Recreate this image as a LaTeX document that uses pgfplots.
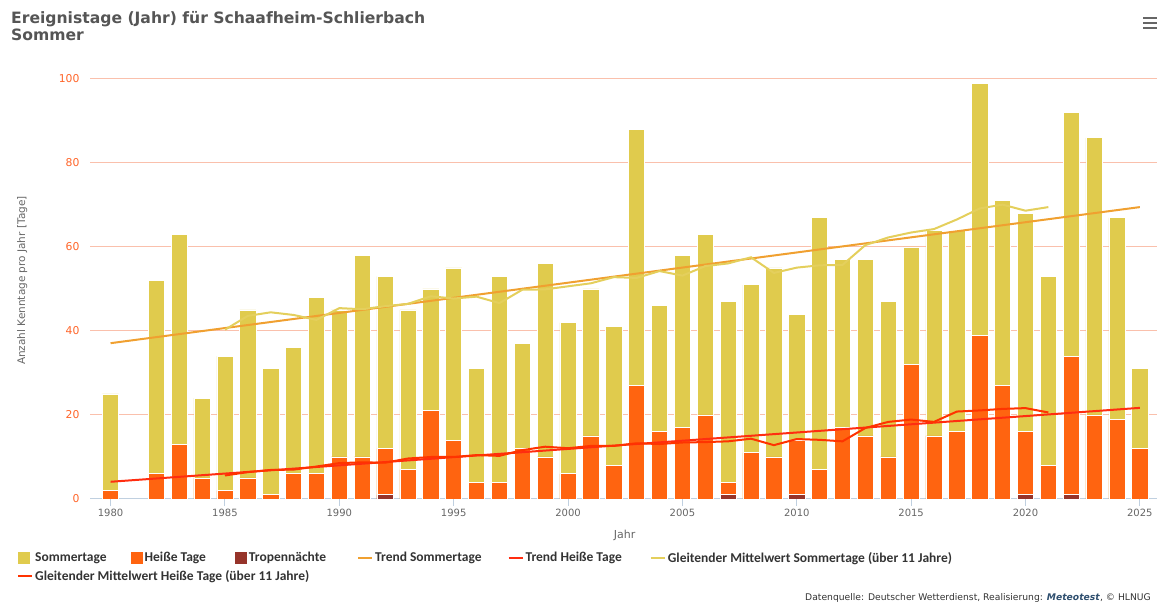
\documentclass[border=0pt]{standalone}
\usepackage{fontspec}
\setmainfont{DejaVu Sans}
\newfontfamily\legfont{Carlito}
\usepackage{pgfplots}
\pgfplotsset{compat=1.18}
\definecolor{cSom}{RGB}{224,203,77}
\definecolor{cHei}{RGB}{255,100,16}
\definecolor{cTro}{RGB}{150,52,42}
\definecolor{cTS}{RGB}{240,160,48}
\definecolor{cTH}{RGB}{255,45,16}
\definecolor{cMS}{RGB}{228,207,92}
\definecolor{cMH}{RGB}{255,51,0}
\definecolor{cGrid}{RGB}{250,192,172}
\definecolor{cAxis}{RGB}{192,208,224}
\definecolor{cYT}{RGB}{255,100,40}
\definecolor{cGrey}{RGB}{102,102,102}
\definecolor{cTitle}{RGB}{85,85,85}
\definecolor{cLeg}{RGB}{51,51,51}
\definecolor{cMeteo}{RGB}{47,79,111}
\pgfplotsset{
  barleg/.style={legend image code/.code={\fill[##1,draw=none] (0bp,-6bp) rectangle (12bp,6bp);}},
  lineleg/.style={legend image code/.code={\draw[##1] (0bp,0bp) -- (14bp,0bp);}},
  mybar/.style={ybar, bar width=0.71, bar shift=0pt, draw=white, line width=0.6bp, barleg},
}
\begin{document}
\begin{tikzpicture}
\path[use as bounding box] (0,0) rectangle (1159bp,602bp);
\begin{axis}[
  at={(90bp,103bp)}, anchor=south west,
  scale only axis, width=1067bp, height=420bp,
  xmin=1979.1, xmax=2025.75, ymin=0, ymax=100,
  axis x line*=bottom, axis y line*=left,
  x axis line style={draw=cAxis, line width=1bp, -},
  y axis line style={draw=none, -},
  xtick={1980,1985,...,2025}, ytick={0,20,...,100},
  tick align=outside, major tick length=7bp,
  xtick style={draw=cAxis, line width=1bp},
  ytick style={draw=none},
  ymajorgrids, major grid style={draw=cGrid, line width=1bp},
  /pgf/number format/1000 sep={}, /pgf/number format/assume math mode=true,
  xticklabel style={font=\fontsize{10bp}{12bp}\selectfont, text=cGrey},
  yticklabel style={font=\fontsize{10.8bp}{12bp}\selectfont, text=cYT},
  xlabel={Jahr}, ylabel={Anzahl Kenntage pro Jahr [Tage]},
  xlabel style={at={(axis description cs:0.501,-0.0857)}, anchor=center, font=\fontsize{11bp}{13bp}\selectfont, text=cGrey},
  ylabel style={at={(axis description cs:-0.0635,0.52)}, anchor=center, font=\fontsize{10.5bp}{13bp}\selectfont, text=cGrey},
  legend columns=6,
  legend cell align=left,
  legend style={at={(axis description cs:-0.0684,-0.1215)}, anchor=north west, draw=none, fill=none,
    font=\legfont\bfseries\fontsize{13.5bp}{15bp}\selectfont, text=cLeg, inner sep=0pt, row sep=3bp,
    /tikz/every even column/.append style={column sep=22bp}},
]
\addplot[mybar, fill=cSom] coordinates {(1980,25) (1982,52) (1983,63) (1984,24) (1985,34) (1986,45) (1987,31) (1988,36) (1989,48) (1990,45) (1991,58) (1992,53) (1993,45) (1994,50) (1995,55) (1996,31) (1997,53) (1998,37) (1999,56) (2000,42) (2001,50) (2002,41) (2003,88) (2004,46) (2005,58) (2006,63) (2007,47) (2008,51) (2009,55) (2010,44) (2011,67) (2012,57) (2013,57) (2014,47) (2015,60) (2016,64) (2017,64) (2018,99) (2019,71) (2020,68) (2021,53) (2022,92) (2023,86) (2024,67) (2025,31)};
\addlegendentry{Sommertage}
\addplot[mybar, fill=cHei] coordinates {(1980,2) (1982,6) (1983,13) (1984,5) (1985,2) (1986,5) (1987,1) (1988,6) (1989,6) (1990,10) (1991,10) (1992,12) (1993,7) (1994,21) (1995,14) (1996,4) (1997,4) (1998,12) (1999,10) (2000,6) (2001,15) (2002,8) (2003,27) (2004,16) (2005,17) (2006,20) (2007,4) (2008,11) (2009,10) (2010,14) (2011,7) (2012,17) (2013,15) (2014,10) (2015,32) (2016,15) (2017,16) (2018,39) (2019,27) (2020,16) (2021,8) (2022,34) (2023,20) (2024,19) (2025,12)};
\addlegendentry{Heiße Tage\rule{5bp}{0pt}}
\addplot[mybar, fill=cTro] coordinates {(1992,1) (2007,1) (2010,1) (2020,1) (2022,1)};
\addlegendentry{Tropennächte\rule{7bp}{0pt}}
\addplot[cTS, line width=2bp, lineleg] coordinates {(1980,37.1) (2025,69.5)};
\addlegendentry{Trend Sommertage\rule{2bp}{0pt}}
\addplot[cTH, line width=2bp, lineleg] coordinates {(1980,4.1) (2025,21.7)};
\addlegendentry{Trend Heiße Tage\rule{4bp}{0pt}}
\addplot[cMS, line width=2bp, lineleg] coordinates {(1985,40.3) (1986,43.6) (1987,44.45) (1988,43.82) (1989,42.64) (1990,45.45) (1991,45.18) (1992,45.91) (1993,46.45) (1994,48.27) (1995,47.73) (1996,48.18) (1997,46.64) (1998,49.82) (1999,49.91) (2000,50.64) (2001,51.36) (2002,52.82) (2003,52.64) (2004,54.27) (2005,53.18) (2006,55.45) (2007,56.09) (2008,57.55) (2009,53.82) (2010,55.09) (2011,55.64) (2012,55.73) (2013,60.45) (2014,62.27) (2015,63.45) (2016,64.27) (2017,66.55) (2018,69.18) (2019,70.09) (2020,68.64) (2021,69.5)};
\addlegendentry{Gleitender Mittelwert Sommertage (über 11 Jahre)}
\addplot[cMH, line width=2bp, lineleg] coordinates {(1985,5.6) (1986,6.4) (1987,6.91) (1988,7.0) (1989,7.73) (1990,8.55) (1991,8.73) (1992,8.64) (1993,9.64) (1994,10.0) (1995,10.0) (1996,10.45) (1997,10.27) (1998,11.64) (1999,12.45) (2000,12.09) (2001,12.64) (2002,12.64) (2003,13.27) (2004,13.09) (2005,13.45) (2006,13.55) (2007,13.73) (2008,14.36) (2009,12.82) (2010,14.27) (2011,14.09) (2012,13.73) (2013,16.91) (2014,18.36) (2015,18.91) (2016,18.36) (2017,20.82) (2018,21.09) (2019,21.45) (2020,21.64) (2021,20.6)};
\addlegendentry{\rlap{Gleitender Mittelwert Heiße Tage (über 11 Jahre)}}
\end{axis}
\node[anchor=base west, inner sep=0pt, text=cTitle, font=\bfseries\fontsize{15.6bp}{17bp}\selectfont] at (11bp,578.7bp) {Ereignistage (Jahr) für Schaafheim-Schlierbach};
\node[anchor=base west, inner sep=0pt, text=cTitle, font=\bfseries\fontsize{15.6bp}{17bp}\selectfont] at (11bp,561.3bp) {Sommer};
\foreach \yy in {584,579,574} {\draw[cGrey, line width=2.5bp] (1143bp,\yy bp) -- (1157bp,\yy bp);}
\node[anchor=base east, inner sep=0pt, text=cLeg, font=\fontsize{9.2bp}{10bp}\selectfont] at (1151bp,2bp) {Datenquelle: Deutscher Wetterdienst, Realisierung: \textcolor{cMeteo}{\textbf{\textit{Meteotest}}}, © HLNUG};
\end{tikzpicture}
\end{document}
